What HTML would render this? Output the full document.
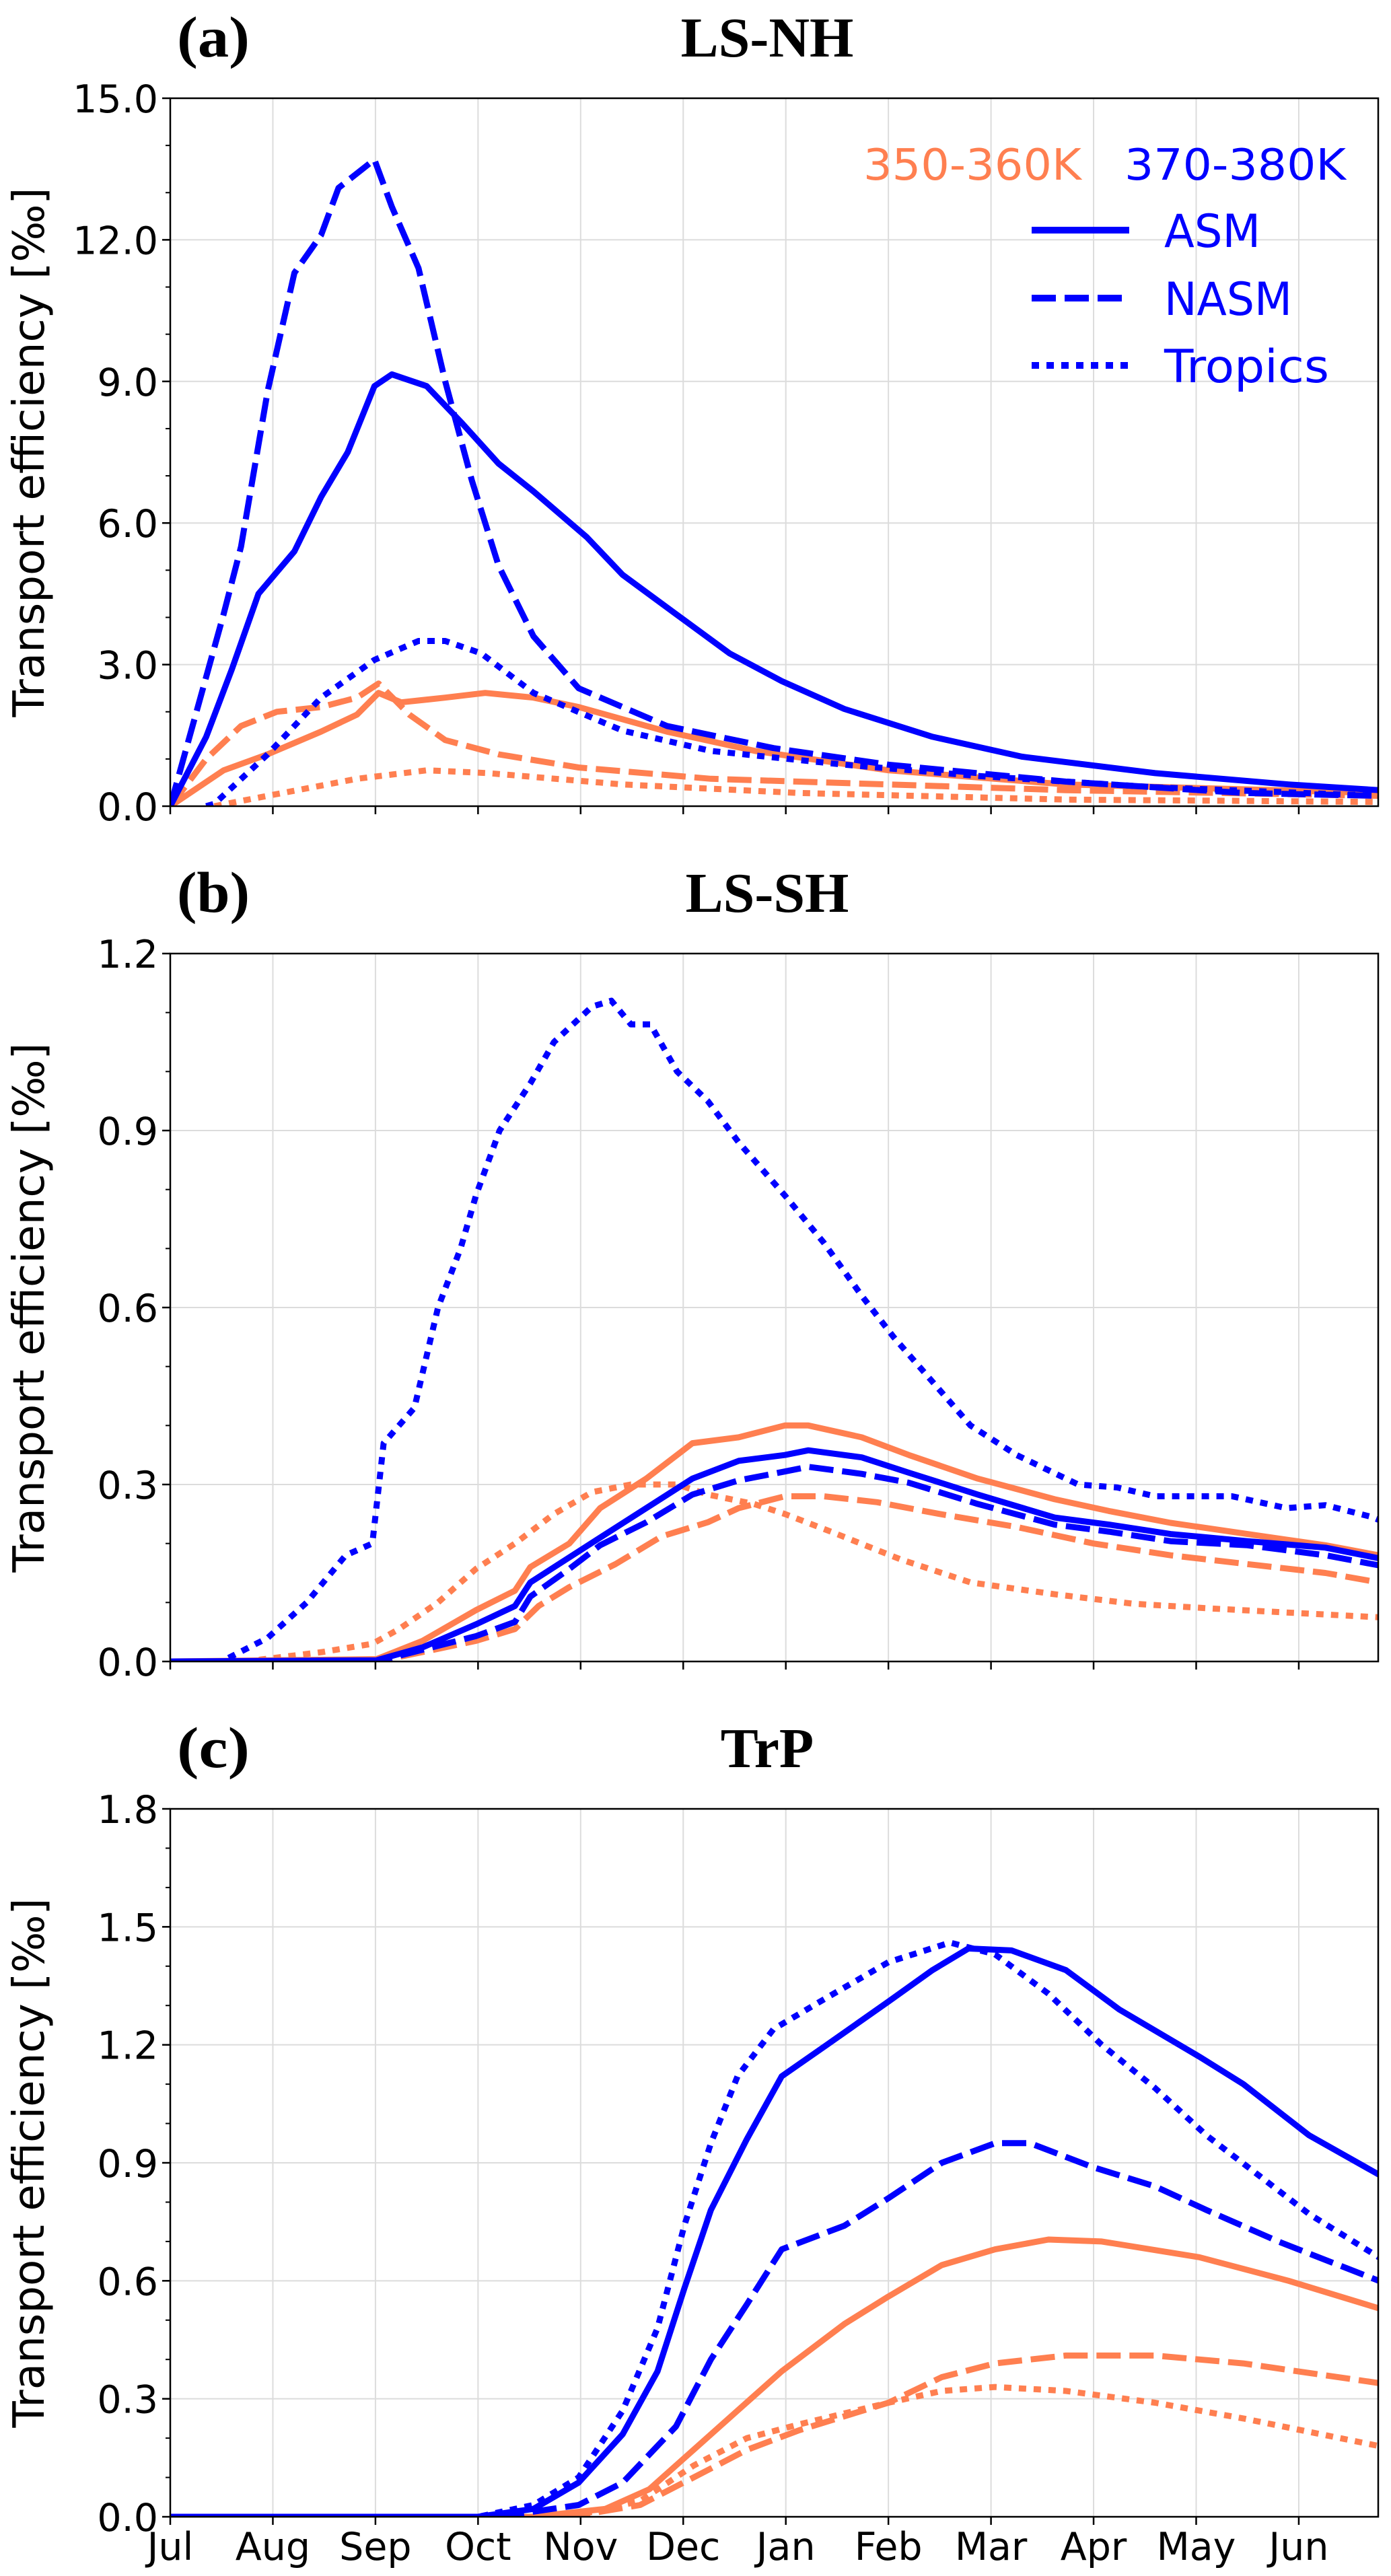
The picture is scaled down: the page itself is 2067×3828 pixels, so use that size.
<!DOCTYPE html>
<html><head><meta charset="utf-8"><style>
html,body{margin:0;padding:0;background:#fff}
svg{display:block}
</style></head><body>
<svg id="fig" xmlns="http://www.w3.org/2000/svg" width="2067" height="3828" viewBox="0 0 2067 3828"></svg>
<script>
// ---- data (x in months since 1 Jul, y in per mille) ----
const monthLabels = ["Jul","Aug","Sep","Oct","Nov","Dec","Jan","Feb","Mar","Apr","May","Jun"];
const panelTitles = ["LS-NH","LS-SH","TrP"];
const panelLetters = ["(a)","(b)","(c)"];
const yMaxes = [15.0, 1.2, 1.8];
const yTicksA = [0.0,3.0,6.0,9.0,12.0,15.0];
const yTicksB = [0.0,0.3,0.6,0.9,1.2];
const yTicksC = [0.0,0.3,0.6,0.9,1.2,1.5,1.8];

// Panel a
const aAsmHiM = [0,0.35,0.6,0.86,1.21,1.47,1.73,1.99,2.16,2.5,2.85,3.2,3.54,4.06,4.41,4.93,5.45,5.96,6.57,7.43,8.3,9.6,10.9,11.78];
const aAsmHiV = [0,1.47,2.9,4.5,5.4,6.55,7.5,8.9,9.15,8.9,8.1,7.26,6.67,5.7,4.9,4.07,3.24,2.65,2.06,1.47,1.05,0.7,0.46,0.34];
const aNasmHiM = [0,0.52,0.69,0.95,1.21,1.47,1.64,1.99,2.16,2.42,2.68,2.94,3.2,3.54,3.98,4.84,5.88,7.0,8.73,10.46,11.78];
const aNasmHiV = [0,4.07,5.5,8.8,11.3,12.1,13.1,13.7,12.7,11.4,9.0,6.9,5.1,3.6,2.5,1.7,1.23,0.88,0.52,0.28,0.22];
const aTropHiM = [0.35,0.43,0.95,1.47,1.99,2.42,2.68,3.03,3.54,4.41,5.27,6.57,7.87,9.6,11.78];
const aTropHiV = [0,0.05,1.1,2.3,3.1,3.5,3.5,3.24,2.4,1.6,1.17,0.88,0.64,0.4,0.22];
const aAsmLoM = [0,0.52,0.95,1.47,1.82,2.03,2.25,2.68,3.07,3.54,3.98,4.84,5.7,7.0,8.73,11.78];
const aAsmLoV = [0,0.76,1.1,1.58,1.94,2.4,2.2,2.3,2.4,2.3,2.1,1.58,1.17,0.76,0.46,0.28];
const aNasmLoM = [0,0.35,0.69,1.04,1.47,1.82,2.03,2.33,2.68,3.2,3.98,5.27,7.0,8.73,11.78];
const aNasmLoV = [0,1.0,1.7,2.0,2.1,2.3,2.6,1.94,1.4,1.1,0.82,0.58,0.46,0.34,0.22];
const aTropLoM = [0.43,0.95,1.82,2.5,3.1,4.41,6.13,8.73,11.78];
const aTropLoV = [0,0.22,0.58,0.76,0.7,0.46,0.28,0.14,0.09];

// Panel b
const bTropHiM = [0,0.5,0.95,1.33,1.71,1.97,2.08,2.38,2.61,2.83,2.98,3.21,3.51,3.74,4.11,4.3,4.49,4.68,4.94,5.24,5.54,5.99,6.37,6.74,7.05,7.5,7.8,8.25,8.85,9.23,9.6,10.35,10.88,11.26,11.71,11.78];
const bTropHiV = [0,0,0.04,0.1,0.18,0.2,0.37,0.43,0.6,0.7,0.79,0.9,0.98,1.05,1.11,1.12,1.08,1.08,1.0,0.95,0.88,0.79,0.71,0.62,0.55,0.46,0.4,0.35,0.3,0.295,0.28,0.28,0.26,0.265,0.245,0.24];
const bAsmLoM = [0,2.01,2.46,2.98,3.36,3.51,3.89,4.19,4.64,5.09,5.54,5.99,6.22,6.74,7.2,7.87,8.62,9.15,9.75,10.5,11.26,11.78];
const bAsmLoV = [0,0.004,0.035,0.087,0.12,0.16,0.2,0.26,0.31,0.37,0.38,0.4,0.4,0.38,0.35,0.31,0.275,0.255,0.235,0.216,0.197,0.18];
const bAsmHiM = [0,2.01,2.46,2.98,3.36,3.51,4.19,4.64,5.09,5.54,5.99,6.22,6.74,7.2,7.87,8.62,9.15,9.75,10.5,11.26,11.78];
const bAsmHiV = [0,0.002,0.024,0.063,0.094,0.134,0.21,0.26,0.31,0.34,0.35,0.358,0.346,0.32,0.283,0.244,0.232,0.216,0.204,0.193,0.175];
const bNasmHiM = [0,2.01,2.46,2.98,3.36,3.51,3.89,4.19,4.64,5.09,5.54,5.99,6.22,6.74,7.2,7.87,8.62,9.15,9.75,10.5,11.26,11.78];
const bNasmHiV = [0,0,0.02,0.043,0.067,0.11,0.157,0.197,0.236,0.283,0.307,0.322,0.33,0.318,0.303,0.267,0.232,0.22,0.204,0.197,0.18,0.163];
const bNasmLoM = [0,2.01,2.46,2.98,3.36,3.59,3.89,4.34,4.79,5.24,5.54,5.99,6.37,6.89,7.5,8.25,9.0,9.75,10.5,11.26,11.78];
const bNasmLoV = [0,0,0.016,0.035,0.055,0.094,0.126,0.165,0.212,0.236,0.26,0.28,0.28,0.27,0.25,0.228,0.2,0.18,0.165,0.15,0.134];
const bTropLoM = [0,0.73,1.48,1.97,2.23,2.61,2.98,3.36,3.74,4.11,4.49,4.94,5.24,5.69,5.99,6.44,7.12,7.8,8.62,9.38,10.13,10.88,11.78];
const bTropLoV = [0,0,0.016,0.03,0.055,0.1,0.157,0.2,0.25,0.287,0.3,0.3,0.283,0.267,0.25,0.22,0.173,0.134,0.114,0.098,0.09,0.083,0.075];

// Panel c
const cTropHiM = [0,3.0,3.54,3.98,4.41,4.75,5.01,5.27,5.53,5.88,6.4,7.0,7.6,8.04,8.56,9.08,9.6,10.1,10.6,11.1,11.78];
const cTropHiV = [0,0,0.03,0.1,0.27,0.48,0.74,0.95,1.12,1.24,1.32,1.41,1.46,1.43,1.33,1.2,1.09,0.97,0.87,0.77,0.66];
const cAsmHiM = [0,3.0,3.54,3.98,4.41,4.75,5.01,5.27,5.62,5.96,6.4,7.0,7.43,7.78,8.2,8.73,9.25,10.03,10.46,11.1,11.78];
const cAsmHiV = [0,0,0.02,0.087,0.21,0.37,0.58,0.78,0.96,1.12,1.2,1.31,1.39,1.445,1.44,1.39,1.29,1.17,1.1,0.97,0.87];
const cNasmHiM = [0,3.2,3.98,4.41,4.93,5.27,5.62,5.96,6.57,7.0,7.52,8.04,8.38,8.98,9.6,10.1,10.8,11.78];
const cNasmHiV = [0,0,0.03,0.087,0.23,0.4,0.54,0.68,0.74,0.81,0.9,0.95,0.95,0.89,0.84,0.78,0.7,0.6];
const cAsmLoM = [0,3.54,4.24,4.67,5.1,5.53,5.96,6.57,7.0,7.52,8.04,8.56,9.08,10.03,10.9,11.78];
const cAsmLoV = [0,0,0.02,0.07,0.17,0.27,0.37,0.49,0.56,0.64,0.68,0.705,0.7,0.66,0.6,0.53];
const cNasmLoM = [0,3.9,4.58,5.1,5.62,6.13,7.0,7.52,8.04,8.73,9.6,10.46,11.78];
const cNasmLoV = [0,0,0.03,0.1,0.17,0.22,0.29,0.355,0.39,0.41,0.41,0.39,0.34];
const cTropLoM = [0,3.9,4.58,5.1,5.62,6.13,7.0,7.52,8.04,8.73,9.6,10.46,11.78];
const cTropLoV = [0,0,0.04,0.13,0.2,0.235,0.29,0.32,0.33,0.32,0.29,0.25,0.18];

const ORANGE = "#ff7f50", BLUE = "#0000ff";
const panels = [
  {ticks:yTicksA, series:[
    [aNasmLoM,aNasmLoV,ORANGE,"dashed","orange-nasm"],[aTropLoM,aTropLoV,ORANGE,"dotted","orange-tropics"],[aAsmLoM,aAsmLoV,ORANGE,"solid","orange-asm"],
    [aTropHiM,aTropHiV,BLUE,"dotted","blue-tropics"],[aNasmHiM,aNasmHiV,BLUE,"dashed","blue-nasm"],[aAsmHiM,aAsmHiV,BLUE,"solid","blue-asm"]]},
  {ticks:yTicksB, series:[
    [bTropLoM,bTropLoV,ORANGE,"dotted","orange-tropics"],[bNasmLoM,bNasmLoV,ORANGE,"dashed","orange-nasm"],[bAsmLoM,bAsmLoV,ORANGE,"solid","orange-asm"],
    [bNasmHiM,bNasmHiV,BLUE,"dashed","blue-nasm"],[bAsmHiM,bAsmHiV,BLUE,"solid","blue-asm"],[bTropHiM,bTropHiV,BLUE,"dotted","blue-tropics"]]},
  {ticks:yTicksC, series:[
    [cTropLoM,cTropLoV,ORANGE,"dotted","orange-tropics"],[cNasmLoM,cNasmLoV,ORANGE,"dashed","orange-nasm"],[cAsmLoM,cAsmLoV,ORANGE,"solid","orange-asm"],
    [cNasmHiM,cNasmHiV,BLUE,"dashed","blue-nasm"],[cTropHiM,cTropHiV,BLUE,"dotted","blue-tropics"],[cAsmHiM,cAsmHiV,BLUE,"solid","blue-asm"]]}
];

const NS = "http://www.w3.org/2000/svg";
const svg = document.getElementById("fig");
const L = 253, R = 2048, MONTH = 152.45;
const tops = [146, 1417, 2688], H = 1052;
function mk(tag, attrs, parent){ const e=document.createElementNS(NS,tag); for(const k in attrs) e.setAttribute(k,attrs[k]); (parent||svg).appendChild(e); return e; }
function xS(m){ return L + m*MONTH; }
const dashes = {solid:null, dashed:"36 13", dotted:"11 11"};
const F = "DejaVu Sans, Liberation Sans, sans-serif";

panels.forEach((p, i) => {
  const top = tops[i], bot = top + H, ymax = yMaxes[i];
  const yS = v => bot - v/ymax*H;
  const g = mk("g", {});
  
  
  const cp = mk("clipPath", {id:"clip"+i}, g);
  mk("rect", {x:L, y:top, width:R-L, height:H}, cp);
  monthLabels.forEach((lab, k) => {
    if (k===0) return;
    const gl = mk("line", {x1:xS(k), x2:xS(k), y1:top, y2:bot, stroke:"#dcdcdc", "stroke-width":2}, g);
    
    
  });
  p.ticks.forEach(t => {
    const yy = yS(t);
    if (t>0 && t<ymax) {
      const gl = mk("line", {x1:L, x2:R, y1:yy, y2:yy, stroke:"#dcdcdc", "stroke-width":2}, g);
      
      
    }
    mk("line", {x1:L-12, x2:L, y1:yy, y2:yy, stroke:"#000", "stroke-width":2.5}, g);
    const tx = mk("text", {x:L-18, y:yy+21, "text-anchor":"end", "font-family":F, "font-size":57}, g);
    tx.textContent = t.toFixed(1);
    
    
  });
  const minorStep = (i===0) ? 1.0 : 0.1;
  for (let v=0; v<=ymax+1e-9; v+=minorStep) {
    mk("line", {x1:L-7, x2:L, y1:yS(v), y2:yS(v), stroke:"#000", "stroke-width":2}, g);
  }
  monthLabels.forEach((lab, k) => {
    mk("line", {x1:xS(k), x2:xS(k), y1:bot, y2:bot+12, stroke:"#000", "stroke-width":2.5}, g);
    if (i===2) {
      const tx = mk("text", {x:xS(k), y:bot+64, "text-anchor":"middle", "font-family":F, "font-size":57}, g);
      tx.textContent = lab;
      
      
    }
  });
  const sg = mk("g", {"clip-path":"url(#clip"+i+")"}, g);
  p.series.forEach(s => {
    const [ms, vs, col, st, nm] = s;
    const d = ms.map((m,j)=> (j?"L":"M") + xS(m).toFixed(1) + "," + yS(vs[j]).toFixed(1)).join("");
    const a = {d:d, fill:"none", stroke:col, "stroke-width":9, "stroke-linejoin":"round"};
    if (dashes[st]) a["stroke-dasharray"] = dashes[st];
    const path = mk("path", a, sg);
    
    
  });
  const fr = mk("rect", {x:L, y:top, width:R-L, height:H, fill:"none", stroke:"#000", "stroke-width":2.5}, g);
  
  
  const yl = mk("text", {x:0, y:0, transform:"translate(65,"+(top+H/2)+") rotate(-90)", "text-anchor":"middle", "font-family":F, "font-size":64, textLength:787, lengthAdjust:"spacingAndGlyphs"}, g);
  yl.textContent = "Transport efficiency [‰]";
  
  
  const lt = mk("text", {x:263, y:top-62, "font-family":"Liberation Serif, serif", "font-weight":"bold", "font-size":86, textLength:108, lengthAdjust:"spacingAndGlyphs"}, g);
  lt.textContent = panelLetters[i];
  
  
  const tt = mk("text", {x:1140, y:top-62, "text-anchor":"middle", "font-family":"Liberation Serif, serif", "font-weight":"bold", "font-size":84}, g);
  tt.textContent = panelTitles[i];
  
  
});

const lg = mk("g", {});


const h1 = mk("text", {x:1283, y:267, "font-family":F, "font-size":64, fill:ORANGE, textLength:324, lengthAdjust:"spacingAndGlyphs"}, lg);
h1.textContent = "350-360K";


const h2 = mk("text", {x:1671, y:267, "font-family":F, "font-size":64, fill:BLUE, textLength:329, lengthAdjust:"spacingAndGlyphs"}, lg);
h2.textContent = "370-380K";


[["ASM","solid",342,143],["NASM","dashed",443,190],["Tropics","dotted",543,245]].forEach(e => {
  const a = {x1:1533, x2:1678, y1:e[2], y2:e[2], stroke:BLUE, "stroke-width":10};
  if (dashes[e[1]]) a["stroke-dasharray"] = dashes[e[1]];
  const ln = mk("line", a, lg);
  
  
  const t = mk("text", {x:1730, y:e[2]+25, "font-family":F, "font-size":68, fill:BLUE, textLength:e[3], lengthAdjust:"spacingAndGlyphs"}, lg);
  t.textContent = e[0];
  
  
});
</script>
</body></html>
